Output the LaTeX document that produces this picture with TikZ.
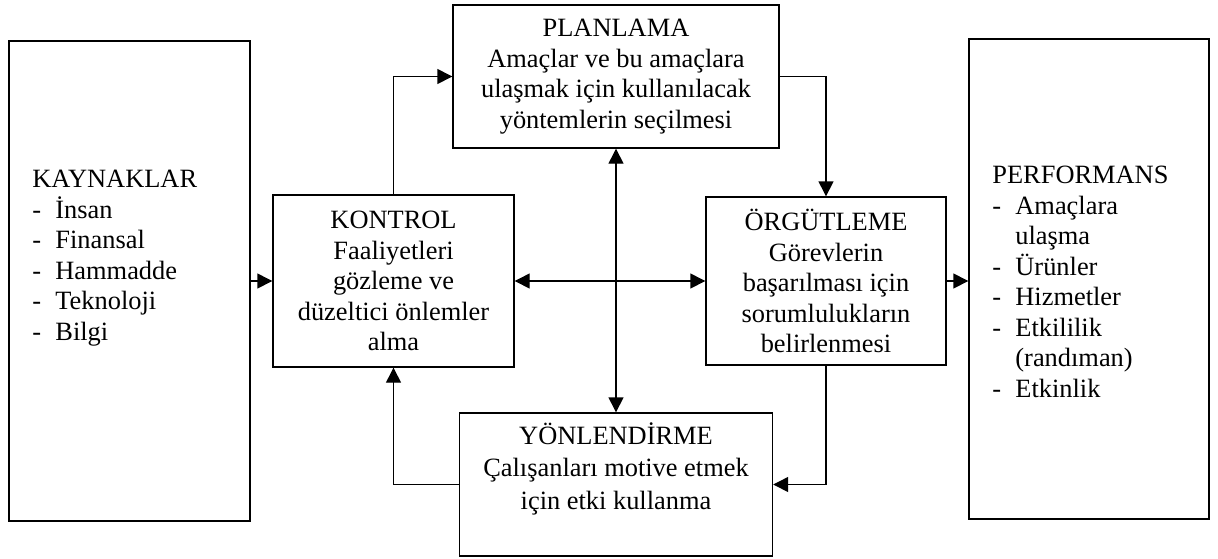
\documentclass[tikz,border=0pt]{standalone}
\usepackage{fontspec}
\setmainfont{Liberation Serif}
\usetikzlibrary{arrows.meta}
\newcommand{\madde}{\makebox[11.5pt][l]{-}}
\newcommand{\girinti}{\hspace*{11.5pt}}

\begin{document}
\begin{tikzpicture}[x=0.5pt, y=-0.5pt,
    yazi/.style={font=\fontsize{13.2}{15.25}\selectfont},
    kutu/.style={draw, line width=0.7pt, yazi, align=center, inner sep=0pt},
    ok/.style={-{Triangle[length=7.5pt,width=7.5pt]}, line width=0.7pt},
    cift/.style={{Triangle[length=7.5pt,width=7.5pt]}-{Triangle[length=7.5pt,width=7.5pt]}, line width=0.7pt}]
    \useasboundingbox (0,0) rectangle (1218,558);
    % Kutular
    \node[kutu, minimum width=120.5pt, minimum height=240pt] (kaynak) at (129.5,281) {};
    \node[kutu, minimum width=120pt, minimum height=240pt] (perf) at (1089,279) {};
    \node[kutu, minimum width=163pt, minimum height=71.5pt] (plan) at (616,76.5)
        {PLANLAMA\\Amaçlar ve bu amaçlara\\ulaşmak için kullanılacak\\yöntemlerin seçilmesi};
    \node[kutu, minimum width=120.5pt, minimum height=86pt] (kontrol) at (393.5,281)
        {KONTROL\\Faaliyetleri\\gözleme ve\\düzeltici önlemler\\alma};
    \node[kutu, minimum width=120pt, minimum height=84pt] (orgut) at (826,281)
        {ÖRGÜTLEME\\Görevlerin\\başarılması için\\sorumlulukların\\belirlenmesi};
    \node[kutu, minimum width=156.5pt, minimum height=71.5pt] (yon) at (616,484.5) {};
    % Yazilar
    \node[font=\fontsize{13.2}{16.3}\selectfont, anchor=north, align=center, inner sep=0pt] (yonyazi) at (616,422)
        {YÖNLENDİRME\\Çalışanları motive etmek\\için etki kullanma};
    \node[yazi, anchor=north west, align=left, inner sep=0pt] (kaynakyazi) at (32,170)
        {KAYNAKLAR\\\madde İnsan\\\madde Finansal\\\madde Hammadde\\\madde Teknoloji\\\madde Bilgi};
    \node[yazi, anchor=north west, align=left, inner sep=0pt] (perfyazi) at (992,166)
        {PERFORMANS\\\madde Amaçlara\\\girinti ulaşma\\\madde Ürünler\\\madde Hizmetler\\\madde Etkililik\\\girinti (randıman)\\\madde Etkinlik};
    % Oklar
    \draw[ok] (kaynak.east |- kontrol.west) -- (kontrol.west);
    \draw[ok] (kontrol.north) |- (plan.west);
    \draw[ok] (plan.east) -| (orgut.north);
    \draw[cift] (plan.south) -- (yon.north);
    \draw[cift] (kontrol.east) -- (orgut.west);
    \draw[ok] (orgut.south) |- (yon.east);
    \draw[ok] (yon.west) -| (kontrol.south);
    \draw[ok] (orgut.east) -- (orgut.east -| perf.west);
\end{tikzpicture}
\end{document}
